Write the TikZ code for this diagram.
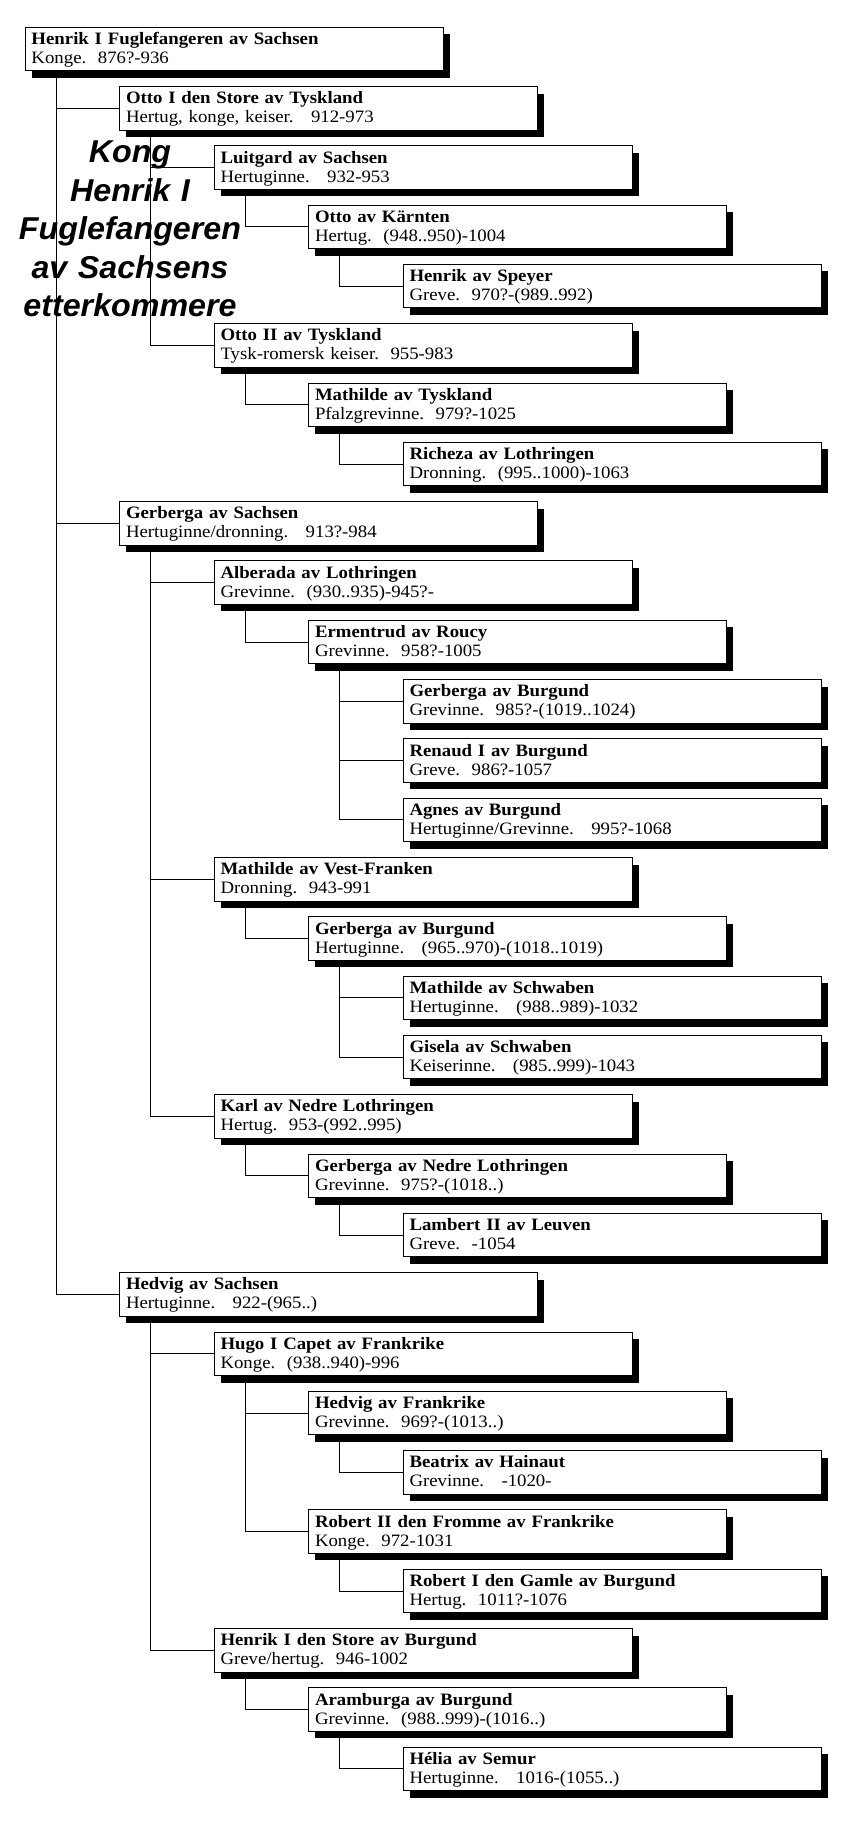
\documentclass[tikz,border=0pt]{standalone}
\usepackage{fontspec}
\usepackage{tikz}
\usetikzlibrary{
  shadows,      % Style "drop shadow"
}
\newfontfamily\boxfont{Liberation Serif}[FakeStretch=1.08]
\newfontfamily\titlefont{Liberation Sans}[FakeStretch=1.02]
\frenchspacing
\def\myvdist{59.31}  % row pitch
\def\myhdist{94.5}   % indent per generation
\def\mystem{15.75pt} % stem below a box
\newcommand{\person}[5]{%
  \node[person] (#1) at ({24.5+#2*\myhdist},{26.7+#3*\myvdist}) {\textbf{#4}\\#5};}
\newcommand{\desc}[2]{\draw[stem] ([xshift=\mystem]#1.south west) |- (#2.west);}
\tikzset{
  person/.style={
    draw,
    fill=white,
    line width=0.5pt,
    anchor=north west,
    minimum width=209pt,
    minimum height=21.75pt,
    text width=202.5pt,
    inner xsep=3.25pt,
    inner ysep=0pt,
    text height=8.6pt,
    text depth=13.15pt,
    align=left,
    font=\boxfont\fontsize{8.7pt}{9.5pt}\selectfont,
    drop shadow={fill=black,opacity=1,shadow xshift=3.25pt,shadow yshift=-3.5pt}
  },
  stem/.style={
    line width=0.5pt
  },
  heading/.style={
    anchor=base,
    inner sep=0pt,
    text width=130pt,
    align=center,
    font=\titlefont\bfseries\itshape\fontsize{15.8pt}{19.25pt}\selectfont
  }
}
\begin{document}
\begin{tikzpicture}[x=0.5pt,y=-0.5pt]
\useasboundingbox (0,0) rectangle (854,1824);
\node[heading] (title) at (130,163) {Kong\\Henrik I\\Fuglefangeren\\av Sachsens\\etterkommere};
\person{henrikI}{0}{0}{Henrik I Fuglefangeren av Sachsen}{Konge.\ \ 876?-936}
\person{ottoI}{1}{1}{Otto I den Store av Tyskland}{Hertug, konge, keiser.\ \ \ 912-973}
\person{luitgard}{2}{2}{Luitgard av Sachsen}{Hertuginne.\ \ \ 932-953}
\person{ottoK}{3}{3}{Otto av Kärnten}{Hertug.\ \ (948..950)-1004}
\person{henrikS}{4}{4}{Henrik av Speyer}{Greve.\ \ 970?-(989..992)}
\person{ottoII}{2}{5}{Otto II av Tyskland}{Tysk-romersk keiser.\ \ 955-983}
\person{mathildeT}{3}{6}{Mathilde av Tyskland}{Pfalzgrevinne.\ \ 979?-1025}
\person{richeza}{4}{7}{Richeza av Lothringen}{Dronning.\ \ (995..1000)-1063}
\person{gerbergaS}{1}{8}{Gerberga av Sachsen}{Hertuginne/dronning.\ \ \ 913?-984}
\person{alberada}{2}{9}{Alberada av Lothringen}{Grevinne.\ \ (930..935)-945?-}
\person{ermentrud}{3}{10}{Ermentrud av Roucy}{Grevinne.\ \ 958?-1005}
\person{gerbergaB}{4}{11}{Gerberga av Burgund}{Grevinne.\ \ 985?-(1019..1024)}
\person{renaud}{4}{12}{Renaud I av Burgund}{Greve.\ \ 986?-1057}
\person{agnes}{4}{13}{Agnes av Burgund}{Hertuginne/Grevinne.\ \ \ 995?-1068}
\person{mathildeV}{2}{14}{Mathilde av Vest-Franken}{Dronning.\ \ 943-991}
\person{gerbergaH}{3}{15}{Gerberga av Burgund}{Hertuginne.\ \ \ (965..970)-(1018..1019)}
\person{mathildeS}{4}{16}{Mathilde av Schwaben}{Hertuginne.\ \ \ (988..989)-1032}
\person{gisela}{4}{17}{Gisela av Schwaben}{Keiserinne.\ \ \ (985..999)-1043}
\person{karl}{2}{18}{Karl av Nedre Lothringen}{Hertug.\ \ 953-(992..995)}
\person{gerbergaN}{3}{19}{Gerberga av Nedre Lothringen}{Grevinne.\ \ 975?-(1018..)}
\person{lambert}{4}{20}{Lambert II av Leuven}{Greve.\ \ -1054}
\person{hedvigS}{1}{21}{Hedvig av Sachsen}{Hertuginne.\ \ \ 922-(965..)}
\person{hugo}{2}{22}{Hugo I Capet av Frankrike}{Konge.\ \ (938..940)-996}
\person{hedvigF}{3}{23}{Hedvig av Frankrike}{Grevinne.\ \ 969?-(1013..)}
\person{beatrix}{4}{24}{Beatrix av Hainaut}{Grevinne.\ \ \ -1020-}
\person{robertII}{3}{25}{Robert II den Fromme av Frankrike}{Konge.\ \ 972-1031}
\person{robertI}{4}{26}{Robert I den Gamle av Burgund}{Hertug.\ \ 1011?-1076}
\person{henrikB}{2}{27}{Henrik I den Store av Burgund}{Greve/hertug.\ \ 946-1002}
\person{aramburga}{3}{28}{Aramburga av Burgund}{Grevinne.\ \ (988..999)-(1016..)}
\person{helia}{4}{29}{Hélia av Semur}{Hertuginne.\ \ \ 1016-(1055..)}
% stems
\desc{henrikI}{ottoI}
\desc{henrikI}{gerbergaS}
\desc{henrikI}{hedvigS}
\desc{ottoI}{luitgard}
\desc{ottoI}{ottoII}
\desc{luitgard}{ottoK}
\desc{ottoK}{henrikS}
\desc{ottoII}{mathildeT}
\desc{mathildeT}{richeza}
\desc{gerbergaS}{alberada}
\desc{gerbergaS}{mathildeV}
\desc{gerbergaS}{karl}
\desc{alberada}{ermentrud}
\desc{ermentrud}{gerbergaB}
\desc{ermentrud}{renaud}
\desc{ermentrud}{agnes}
\desc{mathildeV}{gerbergaH}
\desc{gerbergaH}{mathildeS}
\desc{gerbergaH}{gisela}
\desc{karl}{gerbergaN}
\desc{gerbergaN}{lambert}
\desc{hedvigS}{hugo}
\desc{hedvigS}{henrikB}
\desc{hugo}{hedvigF}
\desc{hugo}{robertII}
\desc{hedvigF}{beatrix}
\desc{robertII}{robertI}
\desc{henrikB}{aramburga}
\desc{aramburga}{helia}
\end{tikzpicture}
\end{document}
